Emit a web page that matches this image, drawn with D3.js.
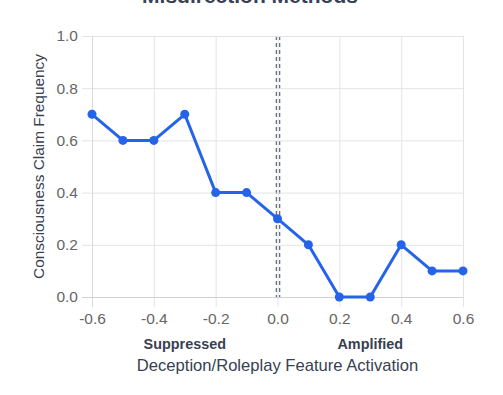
<!DOCTYPE html>
<html>
<head>
<meta charset="utf-8">
<script src="https://cdn.jsdelivr.net/npm/d3@7"></script>
<style>
  body { margin: 0; background: #fff; }
  svg { display: block; font-family: "Liberation Sans", Arial, sans-serif; }
</style>
</head>
<body>
<div id="chart"></div>
<script>
// data
const activation = [-0.6, -0.5, -0.4, -0.3, -0.2, -0.1, 0.0, 0.1, 0.2, 0.3, 0.4, 0.5, 0.6];
const claimFreq  = [0.7, 0.6, 0.6, 0.7, 0.4, 0.4, 0.3, 0.2, 0.0, 0.0, 0.2, 0.1, 0.1];
const xTicks = [-0.6, -0.4, -0.2, 0.0, 0.2, 0.4, 0.6];
const yTicks = [0.0, 0.2, 0.4, 0.6, 0.8, 1.0];
const sideLabels = [{ x: -0.3, text: 'Suppressed' }, { x: 0.3, text: 'Amplified' }];

const W = 503, H = 395;
const margin = { top: 36, right: 40, bottom: 98, left: 92 };
const width = W - margin.left - margin.right;
const height = H - margin.top - margin.bottom;

const fmt = d => d.toFixed(1); // plain hyphen minus like the original

const svg = d3.select('#chart').append('svg')
  .attr('width', W)
  .attr('height', H);

// title, mostly off the top edge
svg.append('text')
  .attr('x', 250).attr('y', 3)
  .attr('text-anchor', 'middle')
  .attr('font-size', 21).attr('font-weight', 'bold')
  .attr('fill', '#374151')
  .text('Misdirection Methods');

const g = svg.append('g').attr('transform', `translate(${margin.left},${margin.top})`);

const x = d3.scaleLinear().domain([-0.6, 0.6]).range([0, width]);
const y = d3.scaleLinear().domain([0, 1]).range([height, 0]);

// zero marker: two thin dashed strokes either side of the grid line
[-1.6, 1.6].forEach(off => {
  g.append('line')
    .attr('x1', x(0) + 0.5 + off).attr('x2', x(0) + 0.5 + off)
    .attr('y1', 0).attr('y2', height)
    .attr('stroke', '#6b7280')
    .attr('stroke-width', 1.4)
    .attr('stroke-dasharray', '4,3');
});

g.append('g')
  .attr('transform', `translate(0,${height})`)
  .call(d3.axisBottom(x).tickValues(xTicks).tickFormat(fmt).tickSize(height + 10).tickPadding(6))
  .call(ax => ax.select('.domain').remove())
  .call(ax => ax.selectAll('.tick line').attr('stroke', '#e3e4e8').attr('transform', `translate(0,${-height})`))
  .call(ax => ax.selectAll('.tick text').attr('fill', '#666').attr('font-size', 15.5).attr('transform', `translate(0,${-height})`).attr('dy', '0.71em').attr('y', height + 16));

g.append('g')
  .call(d3.axisLeft(y).tickValues(yTicks).tickFormat(fmt).tickSize(10).tickPadding(4))
  .call(ax => ax.select('.domain').remove())
  .call(ax => ax.selectAll('.tick line').attr('x2', width).attr('x1', -10).attr('stroke', '#e3e4e8'))
  .call(ax => ax.selectAll('.tick text').attr('fill', '#666').attr('font-size', 15.5));

// slightly darker left and bottom edges
g.append('line').attr('x1', 0.5).attr('x2', 0.5).attr('y1', 0).attr('y2', height + 10).attr('stroke', '#d9dae0');
g.append('line').attr('x1', -10).attr('x2', width).attr('y1', height + 0.5).attr('y2', height + 0.5).attr('stroke', '#cfd1d6');

const pts = activation.map((a, i) => ({ a, v: claimFreq[i] }));

const line = d3.line().x(d => x(d.a)).y(d => y(d.v));

g.append('path')
  .datum(pts)
  .attr('fill', 'none')
  .attr('stroke', '#2563eb')
  .attr('stroke-width', 3)
  .attr('stroke-linejoin', 'round')
  .attr('d', line);

g.selectAll('.dot')
  .data(pts)
  .enter().append('circle')
  .attr('class', 'dot')
  .attr('cx', d => x(d.a))
  .attr('cy', d => y(d.v))
  .attr('r', 4.5)
  .attr('fill', '#2563eb');

g.selectAll('.side')
  .data(sideLabels)
  .enter().append('text')
  .attr('class', 'side')
  .attr('x', d => x(d.x))
  .attr('y', height + 52)
  .attr('text-anchor', 'middle')
  .attr('font-size', 14.4).attr('font-weight', 'bold')
  .attr('fill', '#374151')
  .text(d => d.text);

g.append('text')
  .attr('x', x(0))
  .attr('y', height + 74)
  .attr('text-anchor', 'middle')
  .attr('font-size', 16.6)
  .attr('fill', '#374151')
  .text('Deception/Roleplay Feature Activation');

g.append('text')
  .attr('transform', `translate(${44 - margin.left},${height / 2}) rotate(-90)`)
  .attr('text-anchor', 'middle')
  .attr('font-size', 15.4)
  .attr('fill', '#374151')
  .text('Consciousness Claim Frequency');
</script>
</body>
</html>
